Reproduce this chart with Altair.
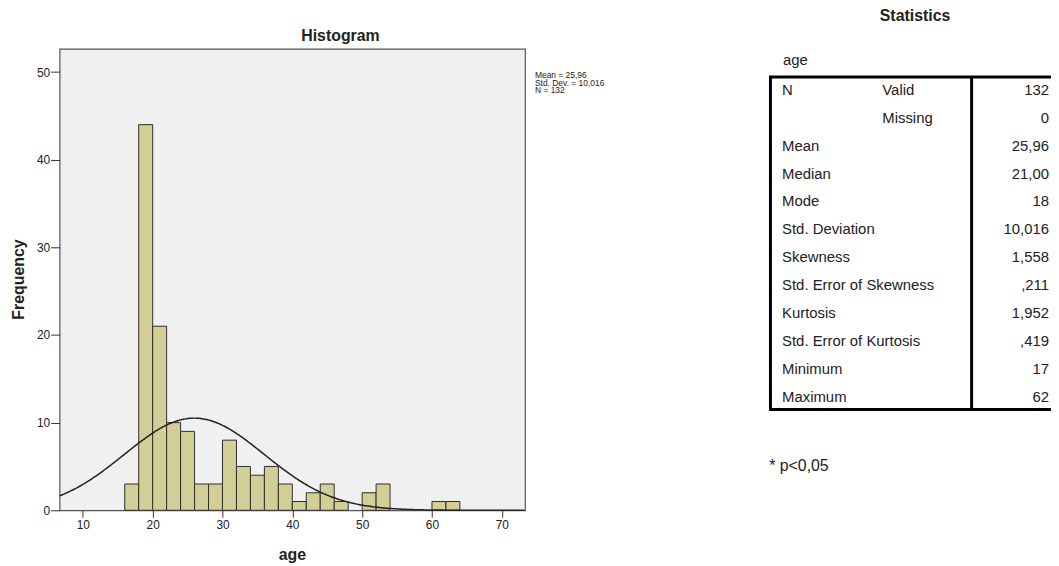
import altair as alt
import pandas as pd

FONT = "Liberation Sans"

# ---- histogram data (age, bin width 2) ----
bin_left = [16, 18, 20, 22, 24, 26, 28, 30, 32, 34, 36, 38, 40, 42, 44, 46, 50, 52, 60, 62]
counts = [3, 44, 21, 10, 9, 3, 3, 8, 5, 4, 5, 3, 1, 2, 3, 1, 2, 3, 1, 1]
bin_width = 2
x_ticks = [10, 20, 30, 40, 50, 60, 70]
y_ticks = [0, 10, 20, 30, 40, 50]
mean_age = 25.96
sd_age = 10.016
n_age = 132
legend_lines = "Mean = 25,96\nStd. Dev. = 10,016\nN = 132"

# ---- statistics table ----
row_labels = ["N", "", "Mean", "Median", "Mode", "Std. Deviation", "Skewness",
              "Std. Error of Skewness", "Kurtosis", "Std. Error of Kurtosis",
              "Minimum", "Maximum"]
sub_labels = ["Valid", "Missing", "", "", "", "", "", "", "", "", "", ""]
stat_values = ["132", "0", "25,96", "21,00", "18", "10,016", "1,558", ",211",
               "1,952", ",419", "17", "62"]

W, H = 469, 465
xdom = [6.67, 73.33]
ydom = [0, 52.65]

hist_df = pd.DataFrame({"left": bin_left, "count": counts})

xscale = alt.Scale(domain=xdom, nice=False, zero=False)
yscale = alt.Scale(domain=ydom, nice=False, zero=False)

bars = alt.Chart(hist_df).transform_calculate(
    right=f"datum.left + {bin_width}"
).mark_bar(fill="#d3ce96", stroke="#2e2e2e", strokeWidth=1).encode(
    x=alt.X("left:Q", scale=xscale,
            axis=alt.Axis(values=x_ticks, title=None, grid=False, domain=False,
                          tickSize=7, tickColor="#333333", labelPadding=2,
                          labelFontSize=12, labelFont=FONT, labelColor="#222222")),
    x2="right:Q",
    y=alt.Y("count:Q", scale=yscale,
            axis=alt.Axis(values=y_ticks, title=None, grid=False, domain=False,
                          tickSize=9, tickColor="#333333", labelPadding=1,
                          labelFontSize=12, labelFont=FONT, labelColor="#222222")),
    y2=alt.datum(0),
)

curve = alt.Chart(alt.sequence(xdom[0], xdom[1] + 0.01, 0.2, as_="x")).transform_calculate(
    y=f"{n_age} * {bin_width} * densityNormal(datum.x, {mean_age}, {sd_age})"
).mark_line(color="#222222", strokeWidth=1.5).encode(
    x=alt.X("x:Q", scale=xscale),
    y=alt.Y("y:Q", scale=yscale),
)

hist = alt.layer(bars, curve)

one = pd.DataFrame({"k": [0]})

def label(text, x, y, size, weight="normal", align="left", baseline="alphabetic", angle=0,
          color="#222222", line_height=None):
    kw = dict(font=FONT, fontSize=size, fontWeight=weight, align=align,
              baseline=baseline, color=color)
    if angle:
        kw["angle"] = angle
    if line_height:
        kw["lineBreak"] = "\n"
        kw["lineHeight"] = line_height
    return alt.Chart(one).mark_text(**kw).encode(
        x=alt.value(x), y=alt.value(y), text=alt.value(text))

TX = 4  # table horizontal offset
annotations = alt.layer(
    label("Histogram", 283, -8, 16, "bold", align="center"),
    label("Frequency", -41, H / 2, 16, "bold", align="center", baseline="middle", angle=270),
    label("age", W / 2, 515, 16, "bold", align="center"),
    label(legend_lines, 479, 29, 8.5, line_height=8),
    label("Statistics", 862, -33, 16, "bold", align="center", baseline="middle"),
    label("age", 725 + TX, 16, 15),
    label("* p<0,05", 715, 425, 16),
)

table_df = pd.DataFrame({
    "idx": list(range(len(row_labels))),
    "lab": row_labels,
    "sub": sub_labels,
    "val": stat_values,
})
row_y = alt.Y("idx:O", scale=alt.Scale(domain=list(range(len(row_labels))),
                                       range=[41.3, 350.8], padding=0), axis=None)
tbase = alt.Chart(table_df)
t_lab = tbase.mark_text(font=FONT, fontSize=15, align="left", baseline="middle",
                        color="#222222").encode(x=alt.value(724 + TX), y=row_y, text="lab:N")
t_sub = tbase.mark_text(font=FONT, fontSize=15, align="left", baseline="middle",
                        color="#222222").encode(x=alt.value(825 + TX), y=row_y, text="sub:N")
t_val = tbase.mark_text(font=FONT, fontSize=15, align="right", baseline="middle",
                        color="#222222").encode(x=alt.value(993 + TX), y=row_y, text="val:N")
border = alt.Chart(one).mark_rect(fillOpacity=0, stroke="#000000", strokeWidth=3).encode(
    x=alt.value(712.3 + TX), x2=alt.value(1010), y=alt.value(28.5), y2=alt.value(363.5))
divider = alt.Chart(one).mark_rule(stroke="#000000", strokeWidth=3).encode(
    x=alt.value(915 + TX), y=alt.value(28.5), y2=alt.value(363.5))
table = alt.layer(t_lab, t_sub, t_val, border, divider)

chart = alt.layer(hist, table, annotations).resolve_scale(y="independent").properties(
    width=W, height=H,
    autosize=alt.AutoSizeParams(type="none"),
    padding={"left": 52, "top": 39, "right": 530, "bottom": 54},
    background="white",
).configure_view(fill="#f0f0f0", stroke="#555555", strokeWidth=1.2)

chart.save("out.html", embed_options={"renderer": "svg", "actions": False})
